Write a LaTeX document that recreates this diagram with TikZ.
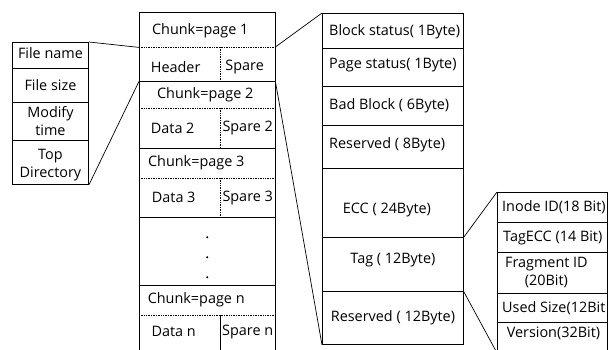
\documentclass[tikz,border=0pt]{standalone}
\usepackage{fontspec}
\setmainfont{Open Sans}
\begin{document}
\begin{tikzpicture}[x=1pt,y=-1pt,
  font=\fontsize{14.4}{18}\selectfont,
  box/.style={draw, line width=0.9pt, inner sep=0pt, anchor=north west},
  cell/.style={inner sep=0pt, anchor=north west},
  sep/.style={line width=0.7pt, densely dotted},
  rule/.style={line width=0.9pt},
  wire/.style={line width=0.7pt},
  txt/.style={inner sep=0pt, align=center},
  ltxt/.style={inner sep=0pt, anchor=west},
  dotmark/.style={circle, fill, inner sep=0pt, minimum size=2.2pt}]
\useasboundingbox (0,0) rectangle (611,349);
\clip (0,0) rectangle (611,349);

% file metadata column
\node[box, minimum width=76pt, minimum height=26pt] (fname) at (12,42) {};
\node[box, minimum width=76pt, minimum height=34pt] (fsize) at (12,68) {};
\node[box, minimum width=76pt, minimum height=38pt] (mtime) at (12,102) {};
\node[box, minimum width=76pt, minimum height=44pt] (tdir)  at (12,140) {};
\node[txt] (fnamet) at ([yshift=2pt]fname.center) {File name};
\node[txt] (fsizet) at (fsize.center) {File size};
\node[txt] (mtimet) at (mtime.center) {Modify\\time};
\node[txt] (tdirt)  at ([yshift=-3pt]tdir.center) {Top\\Directory};

% block of chunks
\node[box, minimum width=136pt, minimum height=345pt] (blk) at (139,12) {};
\node[cell, minimum width=136pt, minimum height=35pt] (p1)  at (139,12) {};
\node[cell, minimum width=81pt,  minimum height=34pt] (hdr) at (139,47) {};
\node[cell, minimum width=55pt,  minimum height=34pt] (spr) at (220,47) {};
\node[cell, minimum width=136pt, minimum height=27pt] (p2)  at (139,81) {};
\node[cell, minimum width=81pt,  minimum height=40pt] (d2)  at (139,108) {};
\node[cell, minimum width=55pt,  minimum height=40pt] (s2)  at (220,108) {};
\node[cell, minimum width=136pt, minimum height=30pt] (p3)  at (139,148) {};
\node[cell, minimum width=81pt,  minimum height=39pt] (d3)  at (139,178) {};
\node[cell, minimum width=55pt,  minimum height=39pt] (s3)  at (220,178) {};
\node[cell, minimum width=136pt, minimum height=68pt] (gap) at (139,217) {};
\node[cell, minimum width=136pt, minimum height=30pt] (pn)  at (139,285) {};
\node[cell, minimum width=81pt,  minimum height=37pt] (dn)  at (139,315) {};
\node[cell, minimum width=55pt,  minimum height=37pt] (sn)  at (220,315) {};

\draw[sep]  (p1.south west) -- (p1.south east);
\draw[sep]  (hdr.north east) -- (hdr.south east);
\draw[rule] (hdr.south west) -- (spr.south east);
\draw[sep]  (p2.south west) -- (p2.south east);
\draw[sep]  (d2.north east) -- (d2.south east);
\draw[rule] (d2.south west) -- (s2.south east);
\draw[sep]  (p3.south west) -- (p3.south east);
\draw[sep]  (d3.north east) -- (d3.south east);
\draw[rule] (d3.south west) -- (s3.south east);
\draw[rule] (gap.south west) -- (gap.south east);
\draw[sep]  (pn.south west) -- (pn.south east);
\draw[rule] (dn.north east) -- (dn.south east);

\node[txt] (p1t)  at ([xshift=-7pt,yshift=-1pt]p1.center) {Chunk=page 1};
\node[txt] (hdrt) at ([xshift=-4pt,yshift=-3pt]hdr.center) {Header};
\node[txt] (sprt) at ([xshift=-3pt,yshift=-3pt]spr.center) {Spare};
\node[txt] (p2t)  at ([xshift=-2pt]p2.center) {Chunk=page 2};
\node[txt] (d2t)  at ([xshift=-7pt]d2.center) {Data 2};
\node[txt] (s2t)  at (s2.center) {Spare 2};
\node[txt] (p3t)  at ([xshift=-11pt]p3.center) {Chunk=page 3};
\node[txt] (d3t)  at ([xshift=-6pt]d3.center) {Data 3};
\node[txt] (s3t)  at (s3.center) {Spare 3};
\node[dotmark] (dotA) at ([yshift=14pt]gap.center) {};
\node[dotmark] (dotB) at ([yshift=-6pt]gap.center) {};
\node[dotmark] (dotC) at ([yshift=-26pt]gap.center) {};
\node[txt] (pnt)  at ([xshift=-11pt]pn.center) {Chunk=page n};
\node[txt] (dnt)  at ([xshift=-6pt,yshift=2pt]dn.center) {Data n};
\node[txt] (snt)  at ([yshift=2pt]sn.center) {Spare n};

% spare area fields
\node[box, minimum width=141pt, minimum height=35pt] (bs)   at (322,13) {};
\node[box, minimum width=141pt, minimum height=38pt] (ps)   at (322,48) {};
\node[box, minimum width=141pt, minimum height=39pt] (bb)   at (322,86) {};
\node[box, minimum width=141pt, minimum height=43pt] (rs8)  at (322,125) {};
\node[box, minimum width=141pt, minimum height=69pt] (ecc)  at (322,168) {};
\node[box, minimum width=141pt, minimum height=54pt] (tag)  at (322,237) {};
\node[box, minimum width=141pt, minimum height=53pt] (rs12) at (322,291) {};
\node[ltxt] (bst)   at ([xshift=7pt,yshift=-1pt]bs.west) {Block status( 1Byte)};
\node[ltxt] (pst)   at ([xshift=7pt,yshift=2pt]ps.west) {Page status( 1Byte)};
\node[ltxt] (bbt)   at ([xshift=7pt]bb.west) {Bad Block ( 6Byte)};
\node[ltxt] (rs8t)  at ([xshift=7pt,yshift=2pt]rs8.west) {Reserved ( 8Byte)};
\node[txt]  (ecct)  at ([xshift=-6pt,yshift=-7pt]ecc.center) {ECC ( 24Byte)};
\node[txt]  (tagt)  at ([yshift=4pt]tag.center) {Tag ( 12Byte)};
\node[txt]  (rs12t) at (rs12.center) {Reserved ( 12Byte)};

% tag fields
\node[box, minimum width=110pt, minimum height=30pt] (iid)  at (497,192) {};
\node[box, minimum width=110pt, minimum height=30pt] (tecc) at (497,222) {};
\node[box, minimum width=110pt, minimum height=41pt] (frag) at (497,252) {};
\node[box, minimum width=110pt, minimum height=29pt] (used) at (497,293) {};
\node[box, minimum width=110pt, minimum height=30pt] (ver)  at (497,322) {};
\node[ltxt] (iidt)  at ([xshift=5pt]iid.west) {Inode ID(18 Bit)};
\node[ltxt] (teccT) at ([xshift=6pt]tecc.west) {TagECC (14 Bit)};
\node[txt]  (fragt) at ([xshift=-6pt]frag.center) {Fragment ID\\(20Bit)};
\node[ltxt] (usedt) at ([xshift=5pt]used.west) {Used Size(12Bit};
\node[txt]  (vert)  at ([xshift=1pt,yshift=4pt]ver.center) {Version(32Bit)};

% connectors
\draw[wire] (fname.north east) -- (p1.south west);
\draw[wire] (tdir.south east) -- (hdr.south west);
\draw[wire] (spr.north east) -- (bs.north west);
\draw[wire] (spr.south east) -- (rs12.south west);
\draw[wire] (tag.north east) -- (iid.north west);
\draw[wire] (tag.south east) -- (ver.south west);
\end{tikzpicture}
\end{document}
